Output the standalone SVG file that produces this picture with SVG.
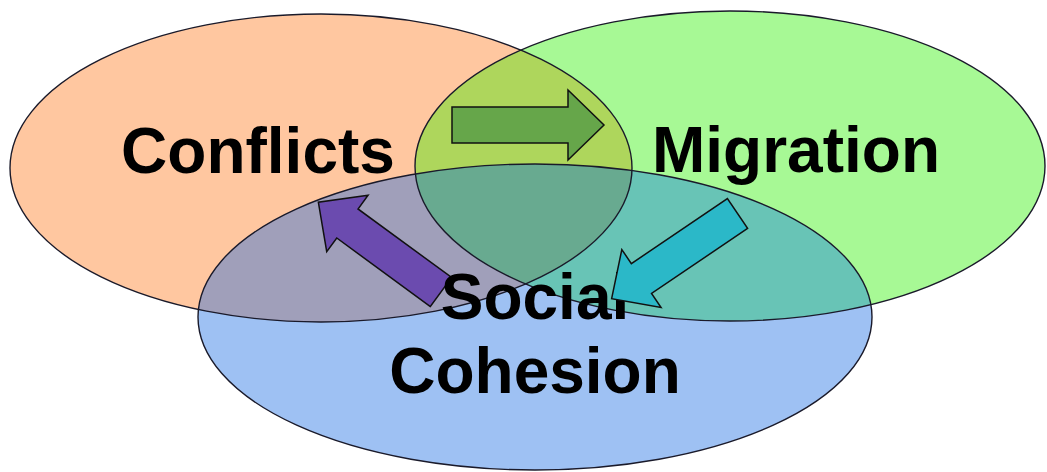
<svg xmlns="http://www.w3.org/2000/svg" width="1047" height="472" viewBox="0 0 1047 472">
<style>
.lbl{font-family:"Liberation Sans",Arial,sans-serif;font-weight:bold;font-size:64px;fill:#000;text-anchor:middle}
.edge{fill:none;stroke:#1a1a2a;stroke-width:1.4}
.arr{stroke:#111;stroke-width:1.5;stroke-linejoin:miter}
</style>
<defs>
<ellipse id="eO" cx="321" cy="168" rx="311" ry="154"/>
<ellipse id="eG" cx="730" cy="166" rx="315" ry="155"/>
<ellipse id="eB" cx="535" cy="317" rx="337" ry="153"/>
<clipPath id="cO"><use href="#eO"/></clipPath>
<clipPath id="cG"><use href="#eG"/></clipPath>
<path id="arrow" d="M0,-18 H116 V-35 L152,0 L116,35 V18 H0 Z"/>
</defs>
<rect width="1047" height="472" fill="#fff"/>
<g id="conflicts">
<use href="#eO" fill="#FFC7A0"/>
</g>
<g id="migration">
<use href="#eG" fill="#A7F995"/>
<use href="#eG" fill="#AED65C" clip-path="url(#cO)"/>
</g>
<g id="social-cohesion">
<use href="#eB" fill="#9EC1F3"/>
<use href="#eB" fill="#A09FBA" clip-path="url(#cO)"/>
<use href="#eB" fill="#68C4B6" clip-path="url(#cG)"/>
<g clip-path="url(#cO)"><use href="#eB" fill="#68AA90" clip-path="url(#cG)"/></g>
</g>
<g id="outlines">
<use href="#eO" class="edge"/>
<use href="#eG" class="edge"/>
<use href="#eB" class="edge"/>
</g>
<g id="connectors">
<use href="#arrow" class="arr" fill="#66A64A" transform="translate(452,125)"/>
<use href="#arrow" class="arr" fill="#6B4BAF" transform="translate(441,292) rotate(216.2)"/>
</g>
<g id="labels">
<text class="lbl" x="258" y="173">Conflicts</text>
<text class="lbl" x="796" y="172">Migration</text>
<text class="lbl" x="535" y="319">Social</text>
<text class="lbl" x="535" y="393">Cohesion</text>
</g>
<g id="connectors-top">
<use href="#arrow" class="arr" fill="#2BB8C8" transform="translate(737.5,213.5) rotate(145.9)"/>
</g>
</svg>
